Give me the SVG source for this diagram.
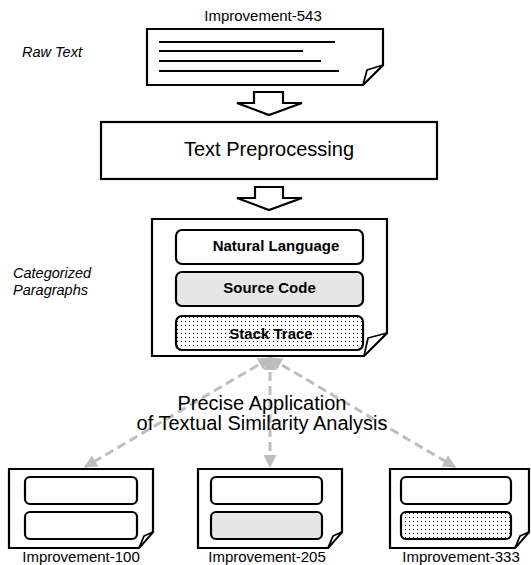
<svg xmlns="http://www.w3.org/2000/svg" width="531" height="565" viewBox="0 0 531 565">
<style>
text{font-family:"Liberation Sans",Arial,Helvetica,sans-serif;fill:#000}
.lbl{font-size:15px;text-anchor:middle}
.side{font-size:14.5px;font-style:italic}
.big{font-size:20px;text-anchor:middle}
.cat{font-size:15px;font-weight:bold;text-anchor:middle}
.doc{fill:#fff;stroke:#000;stroke-width:2.2;stroke-linejoin:miter}
.flap{fill:#fff;stroke:#000;stroke-width:1.8;stroke-linejoin:round}
.box{stroke:#000;stroke-width:2.2}
.line{stroke:#000;stroke-width:2}
.conn{stroke:#bdbdbd;stroke-width:3;stroke-dasharray:9 5;fill:none}
.white{fill:#fff}
.grey{fill:#e6e6e6}
.dots{fill:url(#dotp)}
</style>
<defs>
<pattern id="dotp" width="4" height="4" patternUnits="userSpaceOnUse">
<rect width="4" height="4" fill="#fff"/>
<rect x="1" y="1" width="1" height="1" fill="#000"/>
</pattern>
<marker id="ah" viewBox="0 0 12 12" refX="11" refY="6" markerWidth="13" markerHeight="13" markerUnits="userSpaceOnUse" orient="auto-start-reverse">
<path d="M0,0 L12,6 L0,12 z" fill="#bdbdbd"/>
</marker>
</defs>

<g id="raw-text-label"><text class="side" x="22" y="57">Raw Text</text></g>

<g id="improvement-543">
<text class="lbl" x="263" y="21">Improvement-543</text>
<path class="doc" d="M147,29 H383 V65 L363,85 H147 Z"/>
<path class="flap" d="M383,65 L367,70 L363,85 Z"/>
<line class="line" x1="159" y1="42" x2="335" y2="42"/>
<line class="line" x1="159" y1="51" x2="303" y2="51"/>
<line class="line" x1="159" y1="61" x2="321" y2="61"/>
<line class="line" x1="159" y1="71" x2="339" y2="71"/>
</g>

<g id="arrow-1"><path class="doc" d="M254,92 H283 V103 H302 L269,115 L237,103 H254 Z"/></g>

<g id="text-preprocessing">
<rect class="doc" x="101" y="122" width="336" height="57" stroke-width="2.5"/>
<text class="big" x="269" y="156">Text Preprocessing</text>
</g>

<g id="arrow-2"><path class="doc" d="M255,187 H283 V198 H302 L269,210 L237,198 H255 Z"/></g>

<g id="categorized-label">
<text class="side" x="13" y="278">Categorized</text>
<text class="side" x="13" y="295">Paragraphs</text>
</g>

<g id="categorized-paragraphs">
<path class="doc" d="M152,219 H387 V333 L364,356 H152 Z"/>
<path class="flap" d="M387,333 L368,338 L364,356 Z"/>
<rect class="box white" x="176" y="230" width="187" height="34" rx="6"/>
<text class="cat" x="276" y="251">Natural Language</text>
<rect class="box grey" x="176" y="272" width="187" height="34" rx="6"/>
<text class="cat" x="269.5" y="293">Source Code</text>
<rect class="box dots" x="176" y="316" width="187" height="34" rx="6"/>
<text class="cat" x="271" y="339">Stack Trace</text>
</g>

<g id="connectors">
<line class="conn" x1="270" y1="358" x2="85" y2="467" marker-start="url(#ah)" marker-end="url(#ah)"/>
<line class="conn" x1="270" y1="358" x2="270" y2="467" marker-start="url(#ah)" marker-end="url(#ah)"/>
<line class="conn" x1="270" y1="358" x2="455" y2="467" marker-start="url(#ah)" marker-end="url(#ah)"/>
</g>

<g id="similarity-label">
<text class="big" x="262" y="410">Precise Application</text>
<text class="big" x="262" y="430">of Textual Similarity Analysis</text>
</g>

<g id="improvement-100">
<path class="doc" d="M9,469 H153 V532 L139,548 H9 Z"/>
<path class="flap" d="M153,532 L144,536 L139,548 Z"/>
<rect class="box white" x="25" y="477" width="112" height="27" rx="5"/>
<rect class="box white" x="25" y="512" width="112" height="27" rx="5"/>
<text class="lbl" x="81" y="562">Improvement-100</text>
</g>

<g id="improvement-205">
<path class="doc" d="M198,469 H342 V532 L328,548 H198 Z"/>
<path class="flap" d="M342,532 L333,536 L328,548 Z"/>
<rect class="box white" x="211" y="477" width="111" height="27" rx="5"/>
<rect class="box grey" x="211" y="512" width="111" height="27" rx="5"/>
<text class="lbl" x="267" y="562">Improvement-205</text>
</g>

<g id="improvement-333">
<path class="doc" d="M390,469 H529 V532 L515,548 H390 Z"/>
<path class="flap" d="M529,532 L520,536 L515,548 Z"/>
<rect class="box white" x="401" y="477" width="110" height="27" rx="5"/>
<rect class="box dots" x="401" y="512" width="110" height="27" rx="5"/>
<text class="lbl" x="461" y="562">Improvement-333</text>
</g>
</svg>
